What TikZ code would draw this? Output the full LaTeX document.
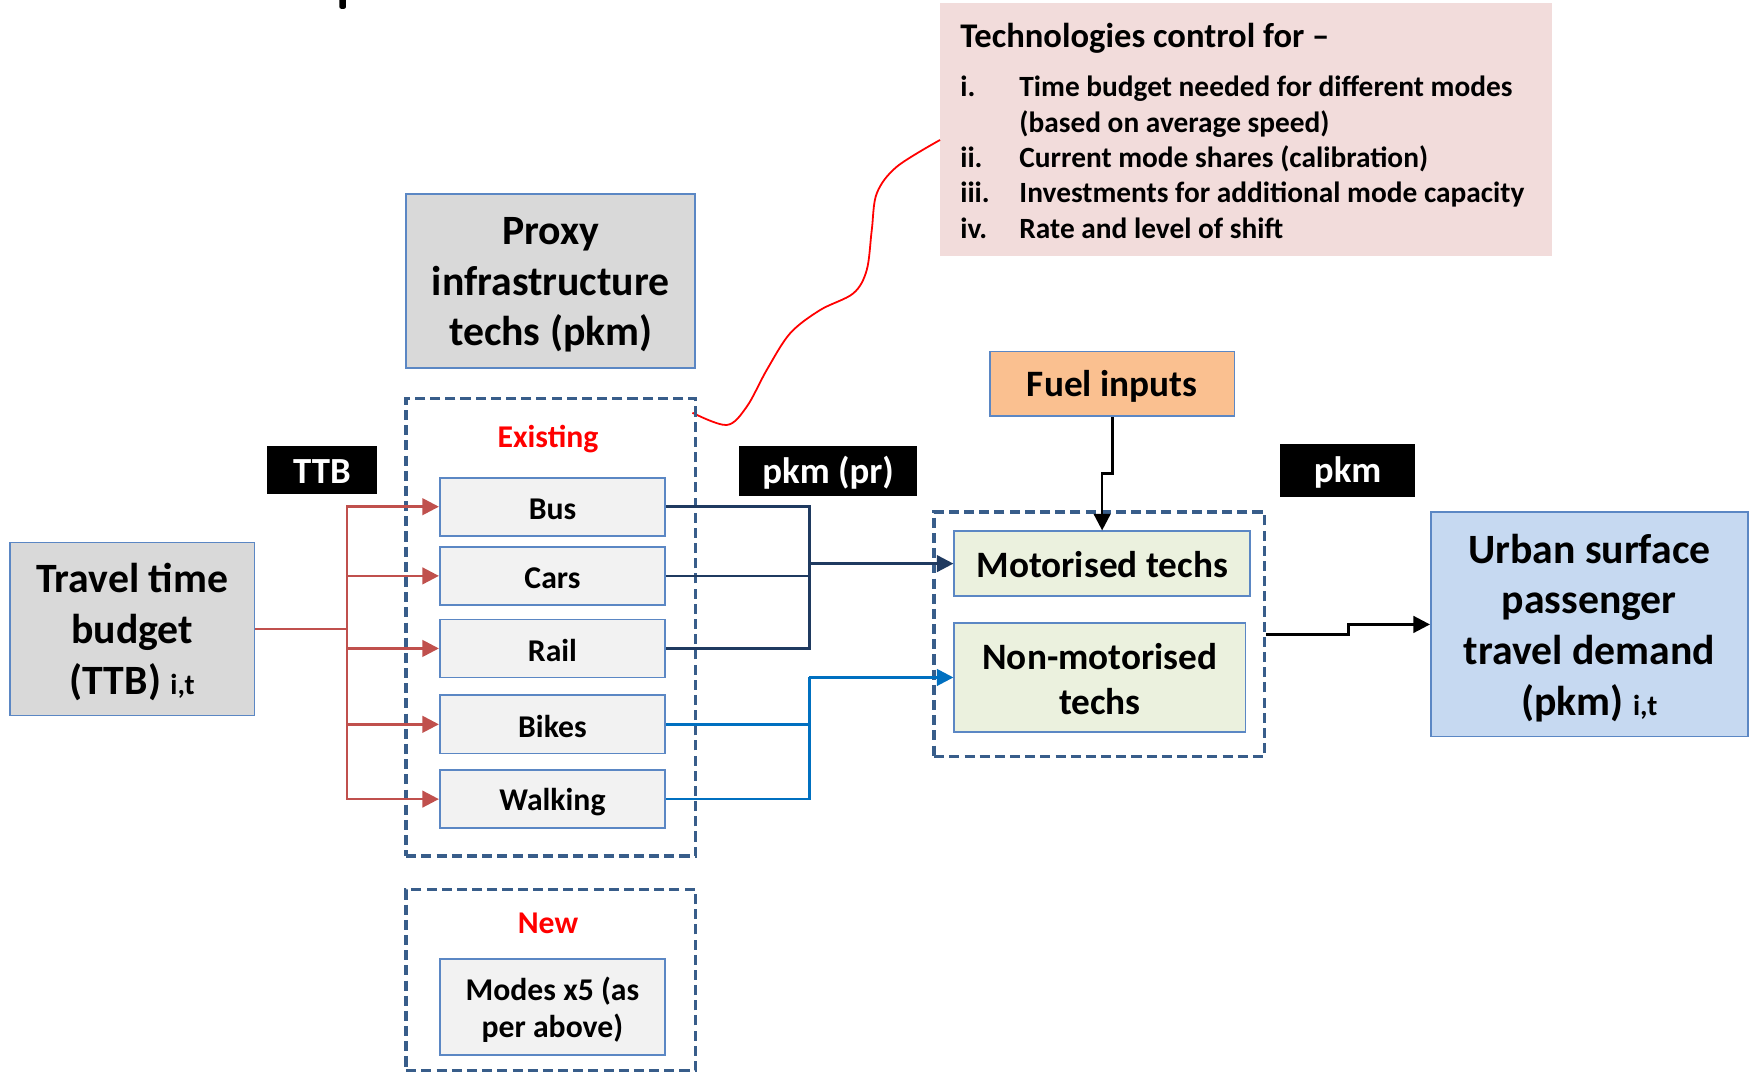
\documentclass[tikz,border=0pt]{standalone}
\usepackage{fontspec}
\setmainfont{Carlito}
\usetikzlibrary{arrows.meta}
\definecolor{boxblue}{HTML}{5B87C4}
\definecolor{dashblue}{HTML}{385D8A}
\definecolor{navyline}{HTML}{1F3A60}
\definecolor{bluline}{HTML}{0070C0}
\definecolor{redline}{HTML}{C0504D}
\definecolor{grayfill}{HTML}{D9D9D9}
\definecolor{lightfill}{HTML}{F2F2F2}
\definecolor{greenfill}{HTML}{EBF1DE}
\definecolor{orangefill}{HTML}{FAC090}
\definecolor{bluefill}{HTML}{C6D9F1}
\definecolor{pinkfill}{HTML}{F2DCDB}
\newcommand\fsubidx{\fontsize{13}{15}\selectfont}
\begin{document}
\begin{tikzpicture}[x=0.5pt,y=-0.5pt,
  sz/.style n args={2}{minimum width=#1*0.5pt, minimum height=#2*0.5pt},
  box/.style={draw=boxblue, line width=0.75pt, inner sep=0pt},
  txt/.style={inner sep=0pt, align=center},
  bigtxt/.style={font=\bfseries\fontsize{18.7}{22.8}\selectfont},
  midtxt/.style={font=\bfseries\fontsize{16.7}{20}\selectfont},
  smalltxt/.style={font=\bfseries\fontsize{14.2}{16.5}\selectfont},
  blacklabel/.style={fill=black, inner sep=0pt},
  labeltxt/.style={text=white, inner sep=0pt, font=\bfseries\fontsize{16.5}{20}\selectfont},
  dashbox/.style={draw=dashblue, line width=1.6pt, dash pattern=on 4.5pt off 2.3pt, inner sep=0pt},
  redlabel/.style={text=red, font=\bfseries\fontsize{14.2}{16.5}\selectfont, inner sep=0pt},
  conn/.style={line width=1.2pt},
  tip/.style={-{Triangle[length=7.4pt,width=7.4pt]}}
]
\fill[white] (0,0) rectangle (1568,962);
\useasboundingbox (0,0) rectangle (1568,962);

% fragment of cut-off title
\fill[black, rounded corners=1pt] (304,-3) rectangle (310,8);

% callout
\node[fill=pinkfill, inner sep=0pt, sz={549}{226}] (callout) at (1116.5,116) {};
\node[anchor=west, inner sep=0pt, font=\bfseries\fontsize{15.5}{18}\selectfont] (chead) at (860,34) {Technologies control for --};
\node[anchor=north west, inner sep=0pt, font=\bfseries\fontsize{13.15}{15.85}\selectfont] (clist) at (860,64)
 {\begin{tabular}{@{}p{26.5pt}@{}l@{}}
  i. & Time budget needed for different modes\\
     & (based on average speed)\\
  ii. & Current mode shares (calibration)\\
  iii. & Investments for additional mode capacity\\
  iv. & Rate and level of shift
 \end{tabular}};

% callout pointer
\draw[red, line width=0.8pt] plot[smooth, tension=0.55] coordinates {(620.4,369.8) (651.1,380.8) (669.1,364.4) (687,331.5) (707.9,298.7) (734.8,277.8) (764.6,262.8) (776.6,241.9) (781.1,206.1) (785.6,173.2) (803.5,149.4) (842.3,125.4)};

% left side
\node[box, fill=grayfill, sz={219}{155}] (ttb) at (118.5,563.5) {};
\node[txt, bigtxt] (ttbT) at ([yshift=-1.3pt]ttb.center) {Travel time\\budget\\(TTB) {\fsubidx i,t}};
\node[box, fill=grayfill, sz={259}{156}] (proxy) at (493.5,252) {};
\node[txt, bigtxt] (proxyT) at ([yshift=-1.6pt]proxy.center) {Proxy\\infrastructure\\techs (pkm)};

\node[dashbox, sz={259}{410}] (exist) at (493.5,562) {};
\node[redlabel] (existlbl) at (491,393.5) {Existing};
\node[box, fill=lightfill, sz={202}{52}] (bus) at (495,454) {};
\node[box, fill=lightfill, sz={202}{52}] (cars) at (495,516) {};
\node[box, fill=lightfill, sz={202}{52}] (rail) at (495,581) {};
\node[box, fill=lightfill, sz={202}{52}] (bikes) at (495,649) {};
\node[box, fill=lightfill, sz={202}{52}] (walk) at (495,716) {};
\node[txt, smalltxt] (busT) at ([yshift=-1.1pt]bus.center) {Bus};
\node[txt, smalltxt] (carsT) at ([yshift=-1.1pt]cars.center) {Cars};
\node[txt, smalltxt] (railT) at ([yshift=-1.1pt]rail.center) {Rail};
\node[txt, smalltxt] (bikesT) at ([yshift=-1.1pt]bikes.center) {Bikes};
\node[txt, smalltxt] (walkT) at ([yshift=-1.1pt]walk.center) {Walking};

\node[dashbox, sz={259}{162}] (newbox) at (493.5,878) {};
\node[redlabel] (newlbl) at (491,827) {New};
\node[box, fill=lightfill, sz={202}{86}] (modes) at (495,902) {};
\node[txt, smalltxt] (modesT) at ([yshift=-1.3pt]modes.center) {Modes x5 (as\\per above)};

\node[blacklabel, sz={99}{43}] (ttblbl) at (288.5,421.5) {};
\node[labeltxt] (ttblblT) at ([yshift=-0.6pt]ttblbl.center) {TTB};
\node[blacklabel, sz={160}{44}] (pkmprlbl) at (742,422) {};
\node[labeltxt] (pkmprlblT) at ([yshift=-0.8pt]pkmprlbl.center) {pkm (pr)};
\node[blacklabel, sz={121}{47}] (pkmlbl) at (1207.5,421.5) {};
\node[labeltxt] (pkmlblT) at ([yshift=-1pt]pkmlbl.center) {pkm};

% right side
\node[box, fill=orangefill, sz={219}{58}] (fuel) at (996.5,344) {};
\node[txt, midtxt] (fuelT) at ([yshift=-1pt]fuel.center) {Fuel inputs};
\node[dashbox, sz={296}{219}] (techbox) at (985,568.5) {};
\node[box, fill=greenfill, sz={265}{58}] (motor) at (987.5,505) {};
\node[txt, midtxt] (motorT) at ([yshift=-0.4pt]motor.center) {Motorised techs};
\node[box, fill=greenfill, sz={261}{98}] (nonmotor) at (985.5,607) {};
\node[txt, midtxt] (nonmotorT) at ([yshift=-0.6pt]nonmotor.center) {Non-motorised\\techs};
\node[box, fill=bluefill, sz={284}{201}] (urban) at (1424,559.5) {};
\node[txt, bigtxt] (urbanT) at ([yshift=-1.6pt]urban.center) {Urban surface\\passenger\\travel demand\\(pkm) {\fsubidx i,t}};

% red TTB connectors
\coordinate (rj) at (311,563.5);
\draw[conn, redline] (ttb.east) -- (rj);
\foreach \n in {bus,cars,rail,bikes,walk}
  \draw[conn, redline, tip] (rj) |- (\n.west);

% navy connectors
\coordinate (nj) at (725,505);
\draw[conn, navyline] (bus.east) -| (nj);
\draw[conn, navyline] (rail.east) -| (nj);
\draw[conn, navyline] (cars.east) -- (cars.east -| nj);
\draw[conn, navyline, tip] (nj) -- (motor.west);

% blue connectors
\coordinate (bj) at (725,607);
\draw[conn, bluline] (bikes.east) -| (bj);
\draw[conn, bluline] (walk.east) -| (bj);
\draw[conn, bluline, tip] (bj) -- (nonmotor.west);

% fuel
\coordinate (fj) at (996.5,424);
\draw[conn, black, tip] (fuel.south) -- (fj) -| (motor.north);

% output
\coordinate (oj) at (1208,564);
\draw[conn, black, tip] (techbox.east) -| (oj) |- (urban.west);
\end{tikzpicture}
\end{document}
